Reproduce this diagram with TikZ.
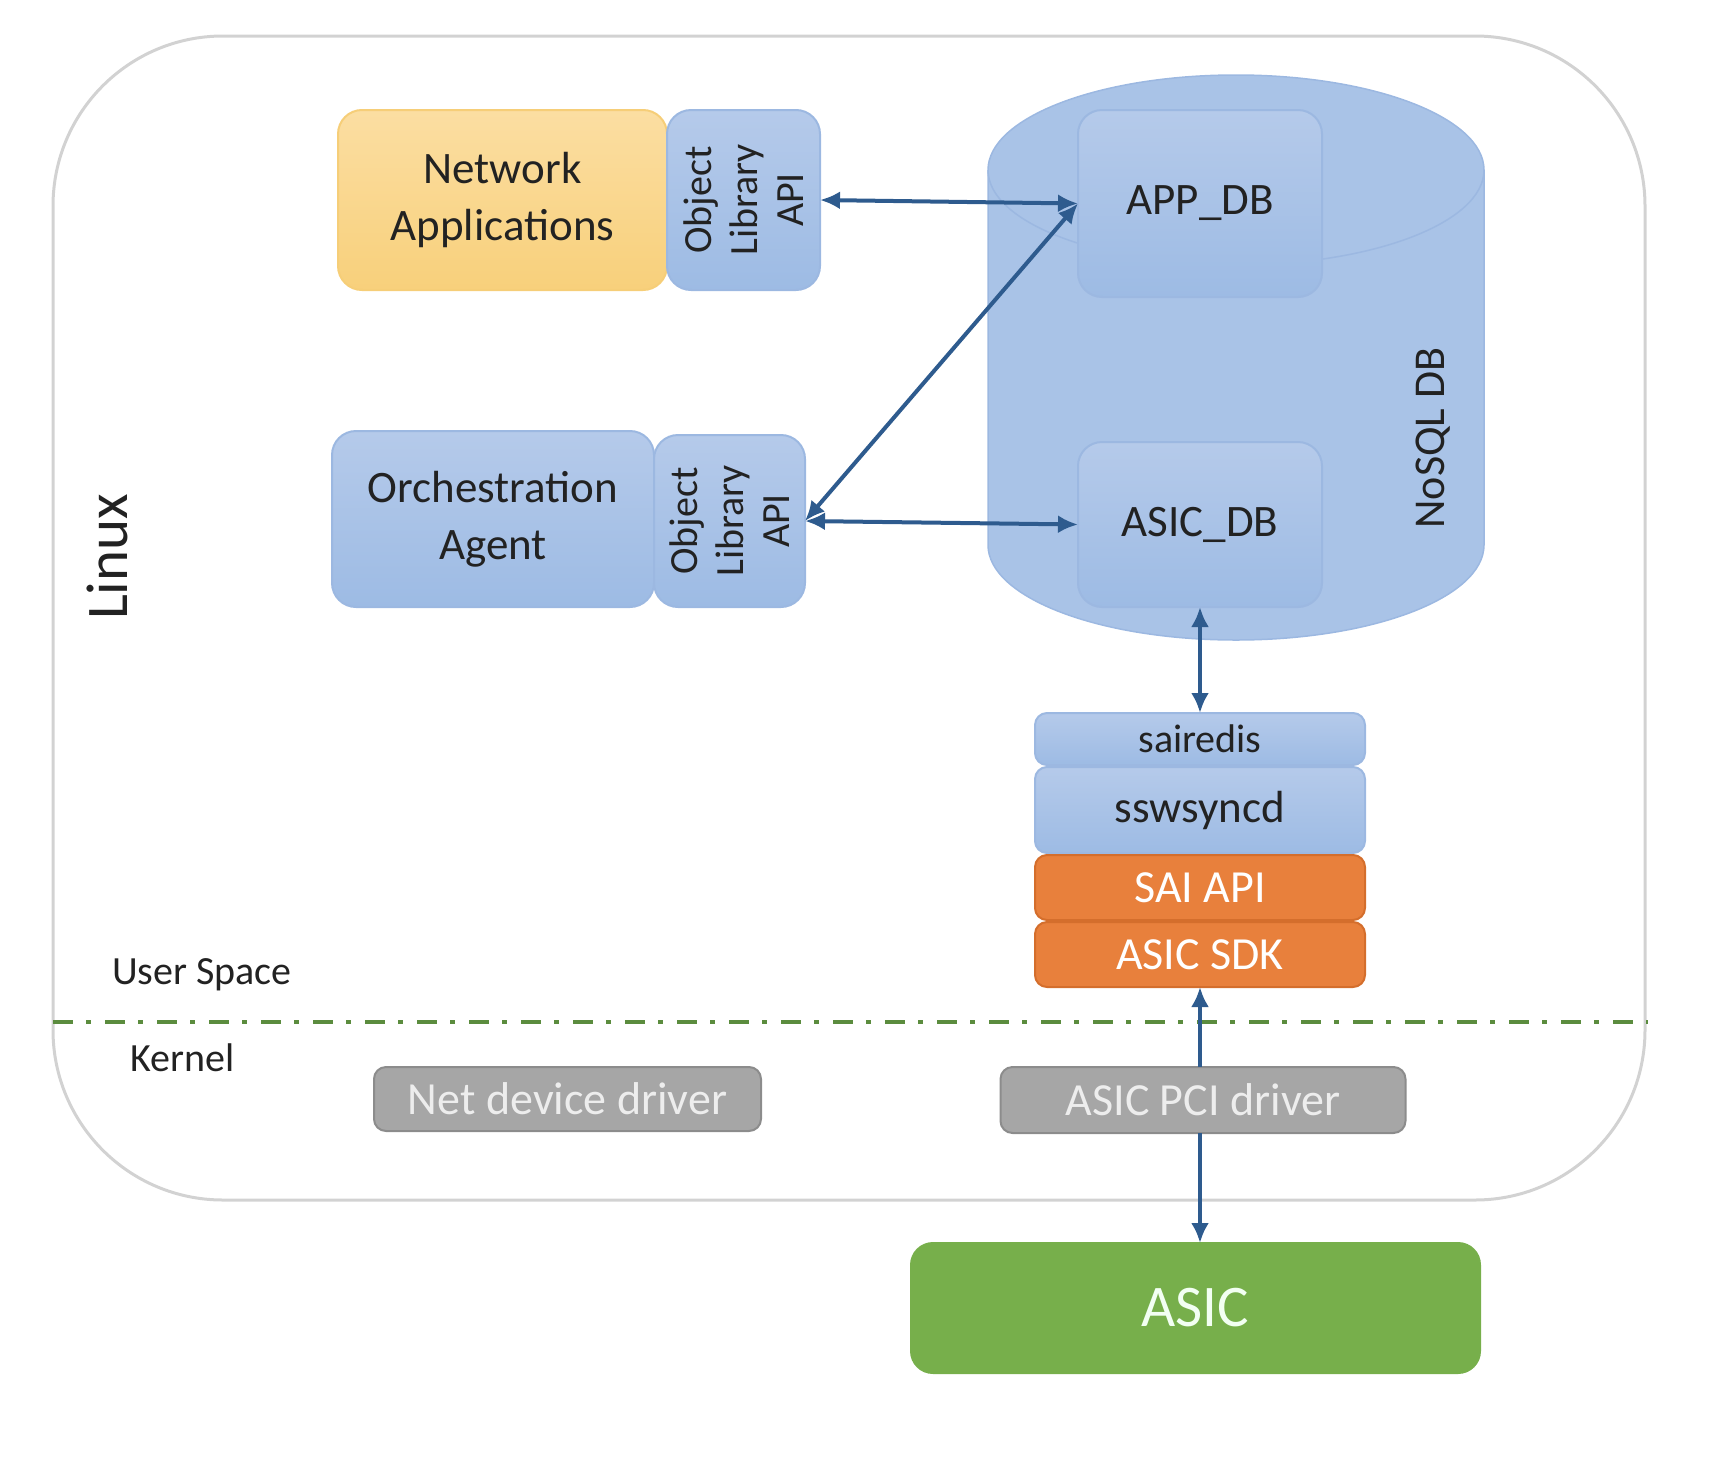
\documentclass[tikz,border=0pt]{standalone}
\usepackage{fontspec}
\setmainfont{Carlito}
\usetikzlibrary{arrows.meta,calc}
\definecolor{txtdark}{HTML}{222222}
\definecolor{frameg}{HTML}{D2D2D2}
\definecolor{kline}{HTML}{5B8C3E}
\definecolor{bluetop}{HTML}{B5CAEA}
\definecolor{blubot}{HTML}{9DBBE4}
\definecolor{bluedge}{HTML}{9CB8E1}
\definecolor{cylfill}{HTML}{A9C3E7}
\definecolor{yeltop}{HTML}{FBDEA2}
\definecolor{yelbot}{HTML}{F8D07B}
\definecolor{yeledge}{HTML}{F6CE78}
\definecolor{orfill}{HTML}{E8803C}
\definecolor{oredge}{HTML}{D46E2C}
\definecolor{grfill}{HTML}{A6A6A6}
\definecolor{gredge}{HTML}{8C8C8C}
\definecolor{asicgreen}{HTML}{77AF4B}
\definecolor{arrowblue}{HTML}{2E5B8E}
\tikzset{
  >={Latex[length=20pt,width=18pt]},
  blk/.style={draw=bluedge, line width=2pt, top color=bluetop, bottom color=blubot,
    rounded corners=24pt, text=txtdark, align=center, inner sep=0pt, outer sep=0pt,
    font=\fontsize{45}{57}\selectfont},
  yelblk/.style={blk, draw=yeledge, top color=yeltop, bottom color=yelbot},
  orblk/.style={blk, draw=oredge, top color=orfill, bottom color=orfill, text=white,
    rounded corners=12pt, font=\fontsize{46}{55}\selectfont},
  grblk/.style={blk, draw=gredge, top color=grfill, bottom color=grfill, text=white!93!black,
    rounded corners=12pt, font=\fontsize{46}{55}\selectfont},
  stackblk/.style={blk, rounded corners=12pt},
  vlabel/.style={rotate=90, align=center, text=txtdark, inner sep=0pt},
  link/.style={draw=arrowblue, line width=4pt},
  frame/.style={draw=frameg, line width=3pt, rounded corners=170pt}
}
\begin{document}
\begin{tikzpicture}[x=1pt,y=1pt]
  \useasboundingbox (0,0) rectangle (1729,-1475);
  % Linux box
  \draw[frame] (53,-36) rectangle (1645,-1200);
  \draw[kline, line width=4pt, dash pattern=on 20pt off 13pt on 5pt off 14pt] (53,-1022) -- (1648,-1022);
  \node[vlabel, font=\fontsize{59}{66}\selectfont] (linux) at (107,-557) {Linux};
  \node[anchor=west, text=txtdark, inner sep=0pt, font=\fontsize{40}{48}\selectfont] (user) at (112,-975) {User Space};
  \node[anchor=west, text=txtdark, inner sep=0pt, font=\fontsize{40}{48}\selectfont] (kernel) at (130,-1058) {Kernel};
  % NoSQL DB cylinder
  \fill[cylfill, draw=bluedge, line width=1.5pt] (988,-170) -- (988,-545)
    arc[start angle=180, end angle=360, x radius=248, y radius=95] -- (1484,-170)
    arc[start angle=0, end angle=180, x radius=248, y radius=95] -- cycle;
  \draw[bluedge, line width=1.5pt] (988,-170) arc[start angle=180, end angle=360, x radius=248, y radius=95];
  \node[vlabel, font=\fontsize{44}{52}\selectfont] (nosql) at (1433,-438) {NoSQL DB};
  \node[blk, minimum width=244pt, minimum height=187pt] (appdb) at (1200,-203.5) {APP\_DB};
  \node[blk, minimum width=244pt, minimum height=165pt] (asicdb) at (1200,-524.5) {ASIC\_DB};
  % applications
  \node[yelblk, minimum width=329pt, minimum height=180pt] (netapp) at (502.5,-200) {Network\\Applications};
  \node[blk, minimum width=153pt, minimum height=180pt] (olat) at (743.5,-200) {};
  \node[vlabel, font=\fontsize{40}{46}\selectfont] at (olat) {Object\\Library\\API};
  \node[blk, minimum width=322pt, minimum height=176pt] (orch) at (493,-519) {Orchestration\\Agent};
  \node[blk, minimum width=151pt, minimum height=172pt] (olab) at (729.5,-521) {};
  \node[vlabel, font=\fontsize{40}{46}\selectfont] at (olab) {Object\\Library\\API};
  % syncd stack
  \node[stackblk, minimum width=330pt, minimum height=52pt, font=\fontsize{40}{48}\selectfont] (sairedis) at (1200,-739) {sairedis};
  \node[stackblk, minimum width=330pt, minimum height=86pt] (syncd) at (1200,-810) {sswsyncd};
  \node[orblk, minimum width=330pt, minimum height=65pt] (saiapi) at (1200,-887.5) {SAI API};
  \node[orblk, minimum width=330pt, minimum height=65pt] (sdk) at (1200,-954.5) {ASIC SDK};
  % kernel and hardware
  \node[grblk, minimum width=387pt, minimum height=64pt] (netdrv) at (567.5,-1099) {Net device driver};
  \node[grblk, minimum width=405pt, minimum height=66pt] (pcidrv) at (1203,-1100) {ASIC PCI driver};
  \node[blk, draw=asicgreen, top color=asicgreen, bottom color=asicgreen, text=white!95!green,
    rounded corners=22pt, minimum width=569pt, minimum height=130pt,
    font=\fontsize{59}{66}\selectfont] (asic) at (1195.5,-1308) {ASIC};
  % connectors
  \draw[link, <->] (olat.east) -- (appdb.west);
  \draw[link, <->] (olab.east) -- (appdb.west);
  \draw[link, <->] (olab.east) -- (asicdb.west);
  \draw[link, <->] (asicdb.south) -- (sairedis.north);
  \draw[link, ->] (sdk.south |- pcidrv.north) -- (sdk.south);
  \draw[link, ->] (sdk.south |- pcidrv.south) -- (sdk.south |- asic.north);
\end{tikzpicture}
\end{document}
